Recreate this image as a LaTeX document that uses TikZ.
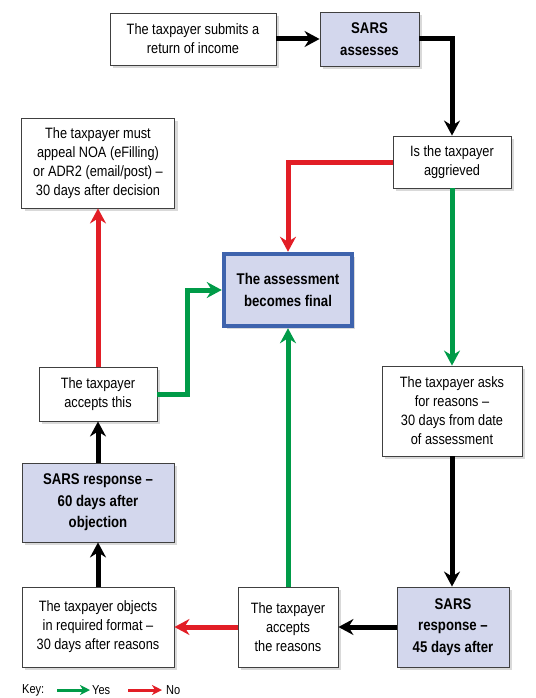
\documentclass[tikz,border=0pt]{standalone}
\usepackage{fontspec}
\setmainfont{Liberation Sans}[FakeStretch=0.85]
\usetikzlibrary{arrows.meta,shadows,calc}
\definecolor{yesgreen}{RGB}{0,155,72}
\definecolor{nored}{RGB}{226,30,38}
\definecolor{sarsfill}{RGB}{211,215,237}
\definecolor{finalblue}{RGB}{62,99,173}
\tikzset{
    box/.style={draw=black!75, line width=0.9pt, fill=white, align=center, inner sep=0pt,
        drop shadow={opacity=0.3, shadow xshift=3pt, shadow yshift=-3pt},
        font=\fontsize{15}{19}\selectfont},
    sarsbox/.style={box, fill=sarsfill, font=\fontsize{15.5}{21.5}\selectfont\bfseries},
    arr/.style={line width=5pt, line join=miter,
        -{Stealth[length=15pt, width=16pt, inset=5pt]}},
    keyarr/.style={line width=3pt, -{Stealth[length=10pt, width=10pt, inset=3pt]}},
    keytext/.style={right, inner sep=0pt, font=\fontsize{13}{15}\selectfont},
}
\begin{document}
\begin{tikzpicture}[x=1pt, y=-1pt]
        \useasboundingbox (0,0) rectangle (535,698);
        % Boxes
        \node [box, minimum width=166, minimum height=52] (submit) at (193,39)
            {The taxpayer submits a\\return of income};
        \node [sarsbox, minimum width=99, minimum height=54] (assess) at (369.5,39)
            {SARS\\assesses};
        \node [box, minimum width=118, minimum height=52] (aggrieved) at (452,162)
            {Is the taxpayer\\aggrieved};
        \node [box, minimum width=153, minimum height=90] (appeal) at (98,163)
            {The taxpayer must\\appeal NOA (eFilling)\\or ADR2 (email/post) --\\30 days after decision};
        \node [sarsbox, draw=finalblue, line width=4.5pt, minimum width=128, minimum height=72] (final) at (288,290)
            {The assessment\\becomes final};
        \node [box, minimum width=118, minimum height=54] (acceptthis) at (98,394)
            {The taxpayer\\accepts this};
        \node [box, minimum width=140, minimum height=90] (asks) at (452,411)
            {The taxpayer asks\\for reasons --\\30 days from date\\of assessment};
        \node [sarsbox, minimum width=152, minimum height=79] (sars60) at (98,502.5)
            {SARS response --\\60 days after\\objection};
        \node [box, minimum width=152, minimum height=80] (objects) at (98,627)
            {The taxpayer objects\\in required format --\\30 days after reasons};
        \node [box, minimum width=100, minimum height=80] (acceptreasons) at (288,627)
            {The taxpayer\\accepts\\the reasons};
        \node [sarsbox, minimum width=112, minimum height=80] (sars45) at (453,627)
            {SARS\\response --\\45 days after};
        % Arrows
        \draw [arr] (submit) -- (assess);
        \draw [arr] (assess.east) -| (aggrieved.north);
        \draw [arr, nored] (aggrieved.west) -| (final.north);
        \draw [arr, yesgreen] (aggrieved) -- (asks);
        \draw [arr] (asks.south) -- (asks.south |- sars45.north);
        \draw [arr] (sars45) -- (acceptreasons);
        \draw [arr, yesgreen] (acceptreasons) -- (final);
        \draw [arr, nored] (acceptreasons) -- (objects);
        \draw [arr] (objects) -- (sars60);
        \draw [arr] (sars60) -- (acceptthis);
        \draw [arr, nored] (acceptthis) -- (appeal);
        \draw [arr, yesgreen] (acceptthis.east) -- ++(30,0) |- (final.west);
        % Key
        \node [keytext] (key) at (22,690) {Key:};
        \coordinate (yesa) at (57,690);
        \coordinate (yesb) at (90,690);
        \coordinate (noa) at (128,690);
        \coordinate (nob) at (162,690);
        \draw [keyarr, yesgreen] (yesa) -- (yesb);
        \draw [keyarr, nored] (noa) -- (nob);
        \node [keytext] (yes) at (92,690) {Yes};
        \node [keytext] (no) at (166,690) {No};
\end{tikzpicture}
\end{document}
